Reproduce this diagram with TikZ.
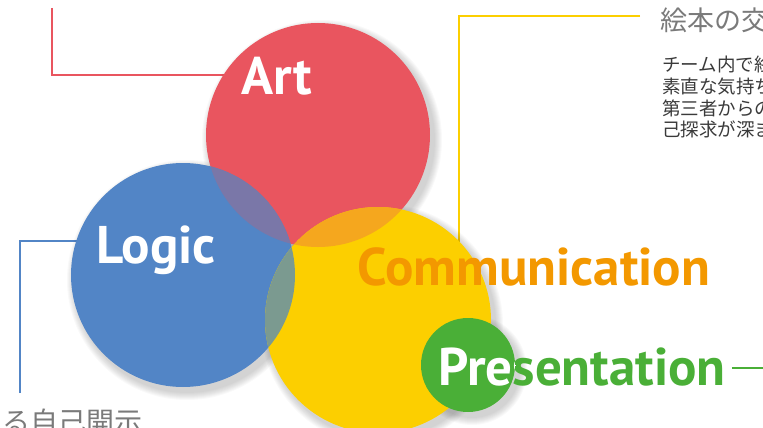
\documentclass[tikz,border=0pt]{standalone}
\usepackage{fontspec}
\setmainfont{PT Sans}
\newfontfamily\jpfont{Noto Sans CJK JP}
\usetikzlibrary{positioning}

\definecolor{artred}{HTML}{E9555F}
\definecolor{logicblue}{HTML}{5285C6}
\definecolor{commyellow}{HTML}{FCCF00}
\definecolor{commorange}{HTML}{F39800}
\definecolor{presgreen}{HTML}{4AAF37}
\definecolor{redblue}{HTML}{7A77A8}
\definecolor{redyellow}{HTML}{F5A71E}
\definecolor{blueyellow}{HTML}{7B9A90}
\definecolor{noteink}{HTML}{3A3A3A}
\definecolor{headink}{HTML}{7A7A7A}

\begin{document}
\begin{tikzpicture}[x=1pt, y=-1pt,
  ring/.style={circle, inner sep=0pt, minimum size=#1},
  link/.style={line width=2.8pt},
  word/.style={font=\fontsize{53}{53}\selectfont\bfseries, inner sep=0pt, anchor=base},
  head/.style={font=\jpfont\fontsize{27}{27}\selectfont, headink, inner sep=0pt, anchor=base west},
  note/.style={font=\jpfont\fontsize{18.5}{18.5}\selectfont, noteink, inner sep=0pt, anchor=base west}]
\useasboundingbox (0,0) rectangle (763,428);
\clip (0,0) rectangle (763,428);

% leader lines (under the circles)
\coordinate (redtip) at (52,8);
\coordinate (bluetip) at (20,393);
\coordinate (yeltip) at (640,16);
\coordinate (yelfoot) at (459,250);
\draw[link, artred] (redtip) |- (318,75);
\draw[link, logicblue] (bluetip) |- (183,241);
\draw[link, commyellow] (yeltip) -| (yelfoot);

% soft shadows
\foreach \cx/\cy/\r in {318/135/112, 183/275/112, 378/320/113, 468/365/47}
  \foreach \k in {1,...,8} {
    \pgfmathsetmacro\rr{\r+9-\k}
    \fill[black, opacity=0.022] (\cx+4,\cy+5) circle (\rr pt);
  }

% the four circles
\node[ring=224pt, fill=artred] (art) at (318,135) {};
\node[ring=224pt, fill=logicblue] (logic) at (183,275) {};
\node[ring=226pt, fill=commyellow] (comm) at (378,320) {};

% overlaps
\begin{scope}
  \clip (art.center) circle (112pt);
  \fill[redblue] (logic.center) circle (112pt);
  \fill[redyellow] (comm.center) circle (113pt);
\end{scope}
\begin{scope}
  \clip (logic.center) circle (112pt);
  \fill[blueyellow] (comm.center) circle (113pt);
\end{scope}

\node[ring=94pt, fill=presgreen] (pres) at (468,365) {};

% labels
\node[word, white] (arttext) at (277,95) {Art};
\node[word, white] (logictext) at (156,263) {Logic};
\node[word, commorange] (commtext) at (534,285) {Communication};
\node[word, presgreen] (prestext) at (582,385) {Presentation};
\begin{scope}
  \clip (pres.center) circle (47pt);
  \node[word, white] at (582,385) {Presentation};
\end{scope}
\coordinate (greentip) at (763,368);
\draw[link, presgreen] ([xshift=6pt]prestext.east |- greentip) -- (greentip);

% notes
\node[head] (title) at (660,31) {絵本の交};
\foreach \txt [count=\i] in {チーム内で絵, 素直な気持ち, 第三者からの, 己探求が深ま}
  \node[note] (line\i) at (662,50.5+21.5*\i) {\txt};
\node[head, font=\jpfont\fontsize{28}{28}\selectfont] (foot) at (2,432) {る自己開示};
\end{tikzpicture}
\end{document}
